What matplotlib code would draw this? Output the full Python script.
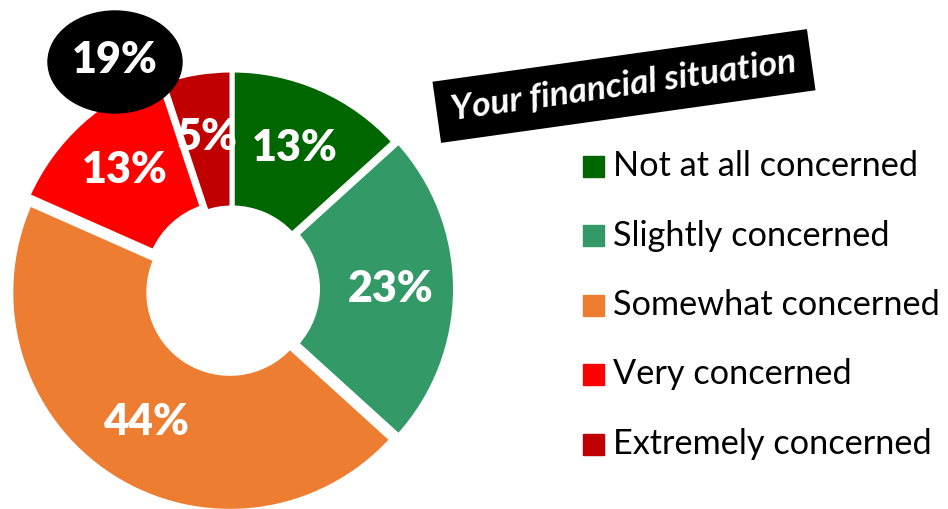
import matplotlib
matplotlib.use("Agg")
import matplotlib.pyplot as plt
from matplotlib.patches import Ellipse, Rectangle
import numpy as np

categories = ["Not at all concerned", "Slightly concerned", "Somewhat concerned",
              "Very concerned", "Extremely concerned"]
values = [13, 23, 44, 13, 5]
colors = ["#006600", "#339966", "#ED7D31", "#FF0000", "#C00000"]
concerned_total = 19
title = "Your financial situation"

W, H = 948, 509
fig = plt.figure(figsize=(W / 100, H / 100), dpi=100)
ax = fig.add_axes([0, 0, 1, 1])

# explode offsets are in data (pixel) units because a custom radius is used
explode = [0, 4.5, 4, 6, 0]
wedges, _ = ax.pie(values, colors=colors, startangle=90, counterclock=False,
                   center=(232, 220), radius=219, explode=explode,
                   wedgeprops=dict(width=138, edgecolor="white", linewidth=3.6),
                   frame=True)
ax.set_xlim(0, W)
ax.set_ylim(0, H)
ax.set_aspect("equal")
ax.axis("off")

lab_font = dict(family=["Lato", "DejaVu Sans"], fontweight="heavy", color="white",
                fontsize=31, ha="center", va="center")
for w, v in zip(wedges, values):
    ang = np.deg2rad((w.theta1 + w.theta2) / 2)
    r = w.r - w.width * 0.47
    cx, cy = w.center
    ax.text(cx + r * np.cos(ang), cy + r * np.sin(ang), f"{v}%", **lab_font)

ax.add_patch(Ellipse((115, 447), 134, 102, color="black", zorder=5))
ax.text(115, 449, f"{concerned_total}%", zorder=6, **lab_font)

ax.text(624, 423, title, rotation=8, rotation_mode="anchor", ha="center", va="center",
        family=["Lato", "DejaVu Sans"], fontweight="bold", fontstyle="italic",
        fontsize=25.5, color="white",
        bbox=dict(boxstyle="square,pad=0.42", fc="black", ec="none"))

for i, (c, col) in enumerate(zip(categories, colors)):
    y = H - (166 + i * 69.5)
    ax.add_patch(Rectangle((583, y - 10.5), 21, 21, color=col))
    ax.text(613, y, c, ha="left", va="center", family=["Lato", "DejaVu Sans"],
            fontsize=24.7, color="black")

fig.savefig("out.png", dpi=100)
